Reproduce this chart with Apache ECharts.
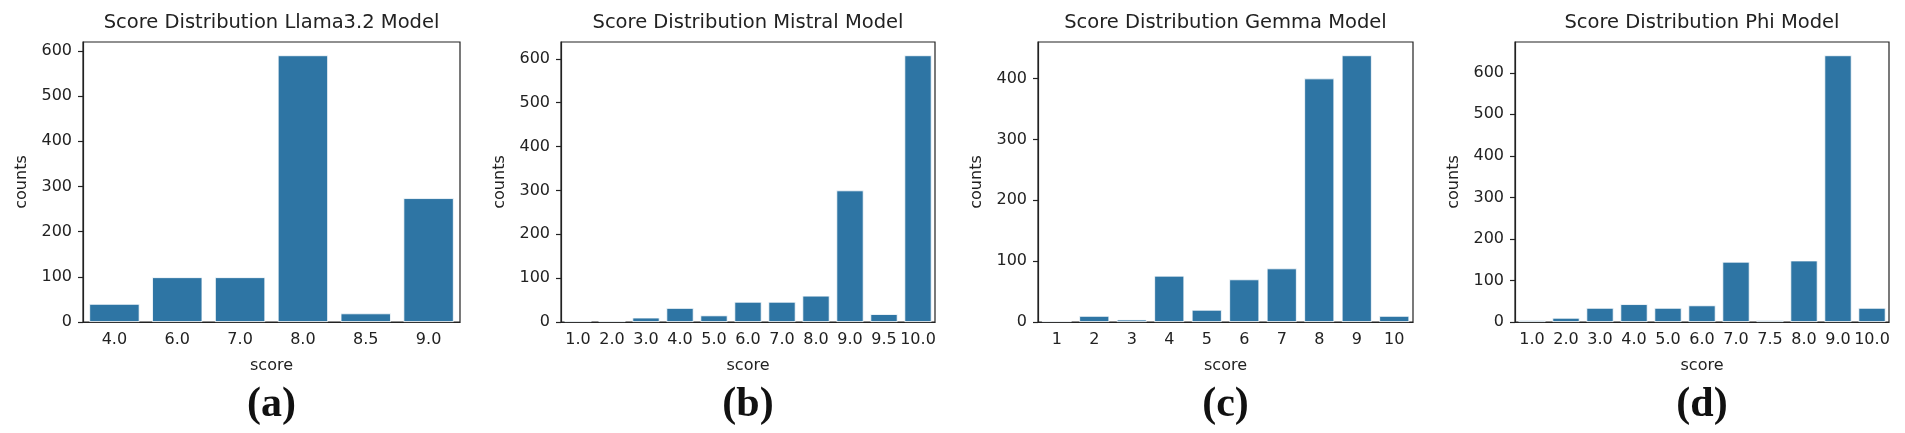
<!DOCTYPE html>
<html>
<head>
<meta charset="utf-8">
<script src="https://cdn.jsdelivr.net/npm/echarts@6/dist/echarts.min.js"></script>
<style>
html,body{margin:0;padding:0;background:#fff;}
#main{width:1905px;height:433px;}
</style>
</head>
<body>
<div id="main"></div>
<script>
// ---- data ----
const titles = ['Score Distribution Llama3.2 Model', 'Score Distribution Mistral Model', 'Score Distribution Gemma Model', 'Score Distribution Phi Model'];
const captions = ['(a)', '(b)', '(c)', '(d)'];
const llamaScores = ['4.0', '6.0', '7.0', '8.0', '8.5', '9.0'];
const llamaCounts = [40, 99, 99, 590, 19, 274];
const mistralScores = ['1.0', '2.0', '3.0', '4.0', '5.0', '6.0', '7.0', '8.0', '9.0', '9.5', '10.0'];
const mistralCounts = [3, 3, 10, 32, 15, 46, 46, 60, 300, 18, 608];
const gemmaScores = ['1', '2', '3', '4', '5', '6', '7', '8', '9', '10'];
const gemmaCounts = [2, 10, 4, 76, 20, 70, 88, 400, 438, 10];
const phiScores = ['1.0', '2.0', '3.0', '4.0', '5.0', '6.0', '7.0', '7.5', '8.0', '9.0', '10.0'];
const phiCounts = [4, 10, 34, 43, 34, 40, 145, 4, 148, 642, 34];
const yTicksA = [0, 100, 200, 300, 400, 500, 600];
const yTicksB = [0, 100, 200, 300, 400, 500, 600];
const yTicksC = [0, 100, 200, 300, 400];
const yTicksD = [0, 100, 200, 300, 400, 500, 600];

const panels = [
  {cats: llamaScores, vals: llamaCounts, ticks: yTicksA},
  {cats: mistralScores, vals: mistralCounts, ticks: yTicksB},
  {cats: gemmaScores, vals: gemmaCounts, ticks: yTicksC},
  {cats: phiScores, vals: phiCounts, ticks: yTicksD}
];
// layout (pixels)
const gridBoxes = [
  {left: 83, width: 377},
  {left: 561, width: 374},
  {left: 1038, width: 375},
  {left: 1515, width: 374}
];
const gridTop = 42, gridHeight = 280;
const txt = '#222';
const font = 'DejaVu Sans';
const barColor = '#2e75a4';

const grid = [], xAxis = [], yAxis = [], series = [], title = [];
panels.forEach((p, i) => {
  const g = gridBoxes[i];
  grid.push({left: g.left, top: gridTop, width: g.width, height: gridHeight,
    show: true, borderColor: '#222', borderWidth: 1.2, backgroundColor: 'transparent', containLabel: false});
  xAxis.push({type: 'category', gridIndex: i, data: p.cats,
    name: 'score', nameLocation: 'middle', nameGap: 36,
    nameTextStyle: {color: txt, fontFamily: font, fontSize: 16},
    axisLine: {lineStyle: {color: '#222', width: 1.2}},
    axisTick: {alignWithLabel: true, length: 5, lineStyle: {color: '#222', width: 1.2}},
    axisLabel: {color: txt, fontFamily: font, fontSize: 16, margin: 10, interval: 0},
    splitLine: {show: false}});
  const maxV = Math.max(...p.vals) * 1.05;
  yAxis.push({type: 'value', gridIndex: i, min: 0, max: maxV,
    name: 'counts', nameLocation: 'middle', nameGap: 53,
    nameTextStyle: {color: txt, fontFamily: font, fontSize: 16},
    axisLine: {show: true, lineStyle: {color: '#222', width: 1.2}},
    axisTick: {show: true, length: 5, customValues: p.ticks, lineStyle: {color: '#222', width: 1.2}},
    axisLabel: {color: txt, fontFamily: font, fontSize: 16, margin: 11, customValues: p.ticks},
    splitLine: {show: false}});
  series.push({type: 'bar', xAxisIndex: i, yAxisIndex: i, data: p.vals,
    barCategoryGap: '20%',
    itemStyle: {color: barColor, borderColor: '#ffffff', borderWidth: 0.8},
    silent: true, animation: false});
  const cx = g.left + g.width / 2;
  title.push({text: titles[i], left: cx, top: 13, textAlign: 'center', padding: 0,
    textStyle: {color: txt, fontFamily: font, fontSize: 19.5, fontWeight: 'normal'}});
  title.push({text: captions[i], left: cx, top: 384, textAlign: 'center', padding: 0,
    textStyle: {color: '#111', fontFamily: 'Liberation Serif', fontSize: 42, fontWeight: 'bold'}});
});

const chart = echarts.init(document.getElementById('main'), null, {renderer: 'canvas'});
chart.setOption({animation: false, backgroundColor: '#fff', title, grid, xAxis, yAxis, series});
</script>
</body>
</html>
